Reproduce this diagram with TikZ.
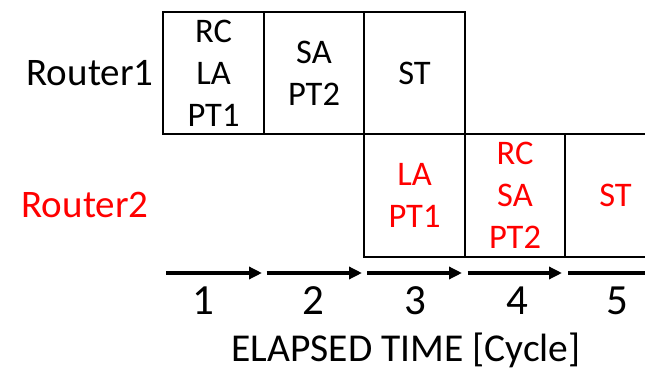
\documentclass[tikz,border=0pt]{standalone}
\usepackage{fontspec}
\setmainfont{Carlito}
\usetikzlibrary{arrows.meta}

\tikzset{
    stagebox/.style={draw, line width=1.9pt, minimum width=100.5pt, minimum height=122.5pt,
        inner sep=0pt, align=center, font=\fontsize{34.5}{42}\selectfont},
    cyclearrow/.style={line width=3.6pt, -{Triangle[length=13pt, width=12pt]}},
}

\begin{document}
\begin{tikzpicture}[x=1pt, y=-1pt]
            \useasboundingbox (0, 0) rectangle (645, 371);

            \node[stagebox] (r1a) at (213.5, 73) {RC\\LA\\PT1};
            \node[stagebox] (r1b) at (314, 73) {SA\\PT2};
            \node[stagebox] (r1c) at (414.5, 73) {ST};

            \node[stagebox, text=red] (r2a) at (414.5, 195.5) {LA\\PT1};
            \node[stagebox, text=red] (r2b) at (515, 195.5) {RC\\SA\\PT2};
            \node[stagebox, text=red] (r2c) at (615.5, 195.5) {ST};

            \node[anchor=base, font=\fontsize{39}{46}\selectfont] (router1) at (90, 86) {Router1};
            \node[anchor=base, font=\fontsize{39}{46}\selectfont, text=red] (router2) at (85, 218) {Router2};

            \foreach \x/\n in {0/203, 1/313, 2/415, 3/517, 4/617} {
                \coordinate (s\x) at (166+\x*100.5, 273);
                \coordinate (e\x) at (262+\x*100, 273);
                \draw[cyclearrow] (s\x) -- (e\x);
                \pgfmathtruncatemacro{\k}{\x+1}
                \node[anchor=base, font=\fontsize{43}{50}\selectfont] (c\k) at (\n, 315) {\k};
            }

            \node[anchor=base, font=\fontsize{39.5}{46}\selectfont] (axis) at (406, 361) {ELAPSED TIME [Cycle]};
        \end{tikzpicture}
\end{document}
